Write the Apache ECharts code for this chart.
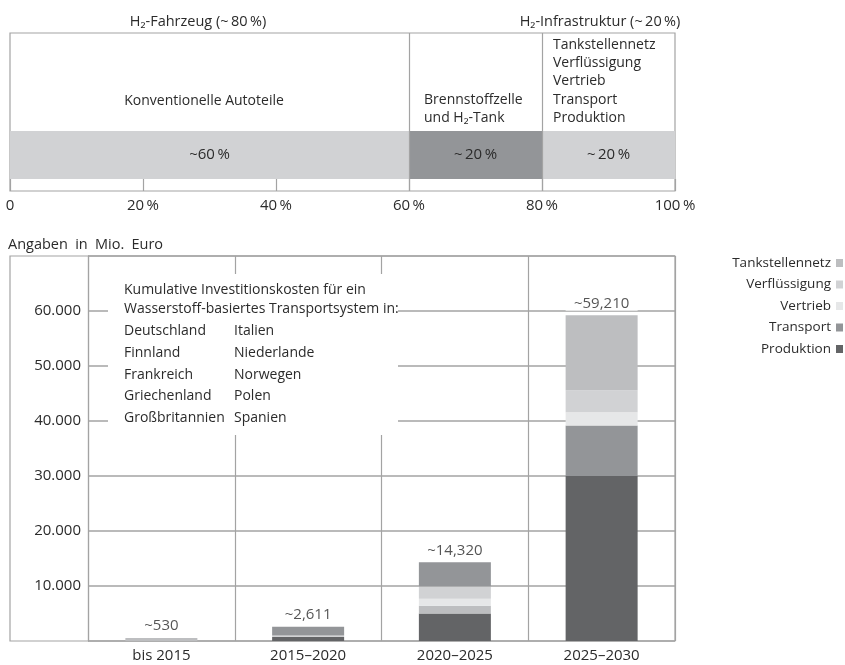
<!DOCTYPE html>
<html><head><meta charset="utf-8">
<script src="https://cdn.jsdelivr.net/npm/echarts@6/dist/echarts.min.js"></script>
<style>html,body{margin:0;padding:0;background:#fff}#c{width:845px;height:665px}</style>
</head><body><div id="c"></div>
<script>
// ---------- top chart data ----------
const shareParts = ['Konventionelle Autoteile', 'Brennstoffzelle und H₂-Tank', 'H₂-Infrastruktur'];
const shareValues = [60, 20, 20];
const shareLabels = ['~60\u2009%', '~\u200920\u2009%', '~\u200920\u2009%'];
const dividers = [60, 80];

// ---------- bottom chart data ----------
const categories = ['bis 2015', '2015–2020', '2020–2025', '2025–2030'];
const produktion      = [0,   750, 5000, 30000];
const transport       = [0,  1601, 4420,  9200];
const vertrieb        = [0,     0, 1300,  2400];
const verfluessigung  = [0,   260, 2200,  4000];
const tankstellennetz = [530,   0, 1400, 13610];
const totals          = [530, 2611, 14320, 59210];
const stackOrder = [
  ['Tankstellennetz'],
  ['Produktion', 'Verflüssigung', 'Transport'],
  ['Produktion', 'Tankstellennetz', 'Vertrieb', 'Verflüssigung', 'Transport'],
  ['Produktion', 'Transport', 'Vertrieb', 'Verflüssigung', 'Tankstellennetz']
];
const legendOrder = ['Tankstellennetz', 'Verflüssigung', 'Vertrieb', 'Transport', 'Produktion'];
const countriesLeft = ['Deutschland', 'Finnland', 'Frankreich', 'Griechenland', 'Großbritannien'];
const countriesRight = ['Italien', 'Niederlande', 'Norwegen', 'Polen', 'Spanien'];

// ---------- styles ----------
const FONT = "'Open Sans', sans-serif";
const TXT = '#2b2b2b';
const LINE = '#a3a3a3';
const shareColors = ['#d1d2d4', '#939598', '#d1d2d4'];
const compColors = {
  'Produktion': '#636466', 'Transport': '#939598', 'Vertrieb': '#e6e7e8',
  'Verflüssigung': '#d1d2d4', 'Tankstellennetz': '#bdbec0'
};
const compValues = {
  'Produktion': produktion, 'Transport': transport, 'Vertrieb': vertrieb,
  'Verflüssigung': verfluessigung, 'Tankstellennetz': tankstellennetz
};

const chart = echarts.init(document.getElementById('c'), null, {renderer: 'canvas'});

const series = [];
// top band
shareValues.forEach((v, i) => {
  series.push({
    type: 'bar', name: shareParts[i], xAxisIndex: 0, yAxisIndex: 0, stack: 'share',
    barWidth: '100%', data: [v], itemStyle: {color: shareColors[i]},
    label: {show: true, position: 'inside', formatter: shareLabels[i], fontFamily: FONT, fontSize: 15, color: TXT},
    silent: true
  });
});
// dividers in top overlay
series.push({
  type: 'line', xAxisIndex: 1, yAxisIndex: 1, data: [], silent: true,
  markLine: {symbol: 'none', silent: true, label: {show: false},
    lineStyle: {color: LINE, type: 'solid', width: 1.2},
    data: dividers.map(v => ({xAxis: v}))}
});
// stacked layers bottom
const maxLayers = Math.max(...stackOrder.map(s => s.length));
for (let k = 0; k < maxLayers; k++) {
  series.push({
    type: 'bar', name: 'layer' + k, xAxisIndex: 2, yAxisIndex: 2, stack: 'inv', barWidth: 72, z: 3,
    silent: true,
    data: categories.map((c, i) => {
      const comp = stackOrder[i][k];
      if (!comp) return '-';
      return {value: compValues[comp][i], itemStyle: {color: compColors[comp]}};
    })
  });
}
// legend entries
legendOrder.forEach(n => {
  series.push({type: 'line', name: n, xAxisIndex: 2, yAxisIndex: 2, data: [],
    itemStyle: {color: compColors[n]}, lineStyle: {color: compColors[n]}});
});
// totals
series.push({
  type: 'scatter', xAxisIndex: 2, yAxisIndex: 2, symbolSize: 1, z: 6, silent: true,
  itemStyle: {color: 'rgba(0,0,0,0)'},
  data: categories.map((c, i) => [c, totals[i]]),
  label: {show: true, position: 'top', distance: 4,
    formatter: p => '~' + totals[p.dataIndex].toLocaleString('en-US'),
    fontFamily: FONT, fontSize: 15, color: TXT, backgroundColor: '#fff', width: 72, align: 'center',
    padding: [1, 0, 0, 0]}
});

const graphic = [];
function txt(x, y, text, opts) {
  graphic.push(Object.assign({type: 'text', x: x, y: y, z: 10, silent: true,
    style: Object.assign({text: text, fontFamily: FONT, fontSize: 14, fill: TXT, align: 'left', verticalAlign: 'middle'}, opts || {})}));
}
txt(198, 22, 'H₂-Fahrzeug (~\u200980\u2009%)', {align: 'center', fontSize: 14.5});
txt(600, 22, 'H₂-Infrastruktur (~\u200920\u2009%)', {align: 'center', fontSize: 14.5});
txt(204, 101, 'Konventionelle Autoteile', {align: 'center'});
txt(424, 109, 'Brennstoffzelle\nund H₂-Tank', {lineHeight: 18});
txt(553, 81.5, 'Tankstellennetz\nVerflüssigung\nVertrieb\nTransport\nProduktion', {lineHeight: 18.3});
txt(8, 245, 'Angaben\u2002in\u2002Mio.\u2002Euro', {fontSize: 14.5});
graphic.push({type: 'rect', z: 5, silent: true, shape: {x: 108, y: 274, width: 290, height: 161}, style: {fill: '#fff'}});
txt(124, 290, 'Kumulative Investitionskosten für ein');
txt(124, 309, 'Wasserstoff-basiertes Transportsystem in:');
countriesLeft.forEach((c, i) => txt(124, 331 + i * 21.8, c));
countriesRight.forEach((c, i) => txt(234, 331 + i * 21.8, c));

chart.setOption({
  animation: false,
  textStyle: {fontFamily: FONT},
  grid: [
    {left: 10, right: 170, top: 131, height: 48},
    {left: 10, right: 170, top: 33, height: 158, show: true, borderColor: LINE, borderWidth: 1.2},
    {left: 88, right: 170, top: 256, bottom: 24},
    {left: 10, right: 170, top: 256, bottom: 24, show: true, borderColor: LINE, borderWidth: 1.2}
  ],
  xAxis: [
    {gridIndex: 0, type: 'value', min: 0, max: 100, interval: 20,
      axisLine: {show: false}, splitLine: {show: false},
      axisTick: {show: true, length: 12, lineStyle: {color: LINE, width: 1.2}},
      axisLabel: {margin: 19, fontFamily: FONT, fontSize: 15, color: TXT,
        formatter: v => v === 0 ? '0' : v + '\u2009%'}},
    {gridIndex: 1, type: 'value', min: 0, max: 100, show: false},
    {gridIndex: 2, type: 'category', data: categories, boundaryGap: true,
      axisLine: {show: false}, axisTick: {show: false},
      splitLine: {show: true, lineStyle: {color: LINE, width: 1.2}},
      axisLabel: {margin: 7, fontFamily: FONT, fontSize: 15, color: TXT}},
    {gridIndex: 3, type: 'value', min: 0, max: 1, show: false}
  ],
  yAxis: [
    {gridIndex: 0, type: 'category', data: ['a'], show: false},
    {gridIndex: 1, type: 'value', min: 0, max: 1, show: false},
    {gridIndex: 2, type: 'value', min: 0, max: 70000, interval: 10000,
      axisLine: {show: true, lineStyle: {color: LINE, width: 1.2}}, axisTick: {show: false},
      splitLine: {show: true, lineStyle: {color: LINE, width: 1.5}},
      axisLabel: {margin: 7, fontFamily: FONT, fontSize: 15, color: TXT,
        formatter: v => (v === 0 || v === 70000) ? '' : (v / 1000).toFixed(0) + '.000'}},
    {gridIndex: 3, type: 'value', min: 0, max: 1, show: false}
  ],
  legend: {
    data: legendOrder, orient: 'vertical', right: 2, top: 255, align: 'right', padding: 0,
    icon: 'rect', itemWidth: 7, itemHeight: 8, itemGap: 5.5, selectedMode: false,
    textStyle: {fontFamily: FONT, fontSize: 13.5, color: TXT, lineHeight: 16}
  },
  graphic: graphic,
  series: series
});
</script>
</body></html>
